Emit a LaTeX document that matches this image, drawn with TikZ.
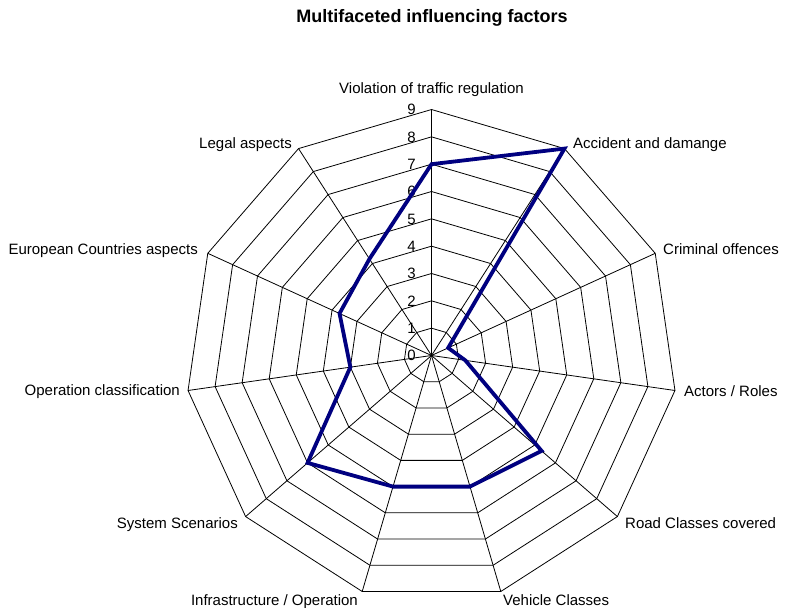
\documentclass[tikz,border=0pt]{standalone}
\usepackage{fontspec}
\setmainfont{Liberation Sans}
\definecolor{seriesblue}{RGB}{0,0,128}
\begin{document}
\begin{tikzpicture}[x=1pt,y=1pt,
  gridline/.style={black,line width=0.8pt},
  series/.style={draw=seriesblue,line width=3.8pt,line join=miter},
  cat/.style={font=\fontsize{15}{18}\selectfont,inner sep=0pt,text height=10.5pt,text depth=0pt},
  ticklabel/.style={font=\fontsize{15}{18}\selectfont,inner sep=0pt,text height=10.5pt,text depth=0pt},
  titletext/.style={font=\bfseries\fontsize{18}{22}\selectfont,inner sep=0pt}]
\useasboundingbox (0,0) rectangle (786,607);
\fill[white] (0,0) rectangle (786,607);

\node[titletext] (title) at (432,589) {Multifaceted influencing factors};

% radar chart: 11 axes, scale 0..9
\begin{scope}[shift={(431.5pt,251.5pt)},x=27.33pt,y=27.33pt]
  % concentric rings
  \foreach \k in {1,...,9}
    \draw[gridline] (90:\k) \foreach \i in {1,...,10} { -- ({90-\i*360/11}:\k) } -- cycle;
  % spokes
  \foreach \i in {0,...,10}
    \draw[gridline] (0,0) -- ({90-\i*360/11}:9);
  % value labels on the vertical axis
  \foreach \k in {0,...,9}
    \node[ticklabel] (tick\k) at (-0.73,\k) {\k};
  % data series
  \draw[series] (90:7) -- (57.27:9) -- (24.55:0.67) -- (-8.18:1.25)
    -- (-40.91:5.33) -- (-73.64:5) -- (-106.36:5) -- (-139.09:6)
    -- (-171.82:3) -- (-204.55:3.7) -- (-237.27:4.2) -- cycle;
\end{scope}

% category labels
\node[cat] (c0) at (431.5,519) {Violation of traffic regulation};
\node[cat,anchor=west] (c1) at (573,464) {Accident and damange};
\node[cat,anchor=west] (c2) at (663,358) {Criminal offences};
\node[cat,anchor=west] (c3) at (684,216) {Actors / Roles};
\node[cat,anchor=west] (c4) at (625,84) {Road Classes covered};
\node[cat,anchor=west] (c5) at (503,7) {Vehicle Classes};
\node[cat,anchor=east] (c6) at (358,7) {Infrastructure / Operation};
\node[cat,anchor=east] (c7) at (238,84) {System Scenarios};
\node[cat,anchor=east] (c8) at (180,217) {Operation classification};
\node[cat,anchor=east] (c9) at (198,358) {European Countries aspects};
\node[cat,anchor=east] (c10) at (292,464) {Legal aspects};
\end{tikzpicture}
\end{document}
